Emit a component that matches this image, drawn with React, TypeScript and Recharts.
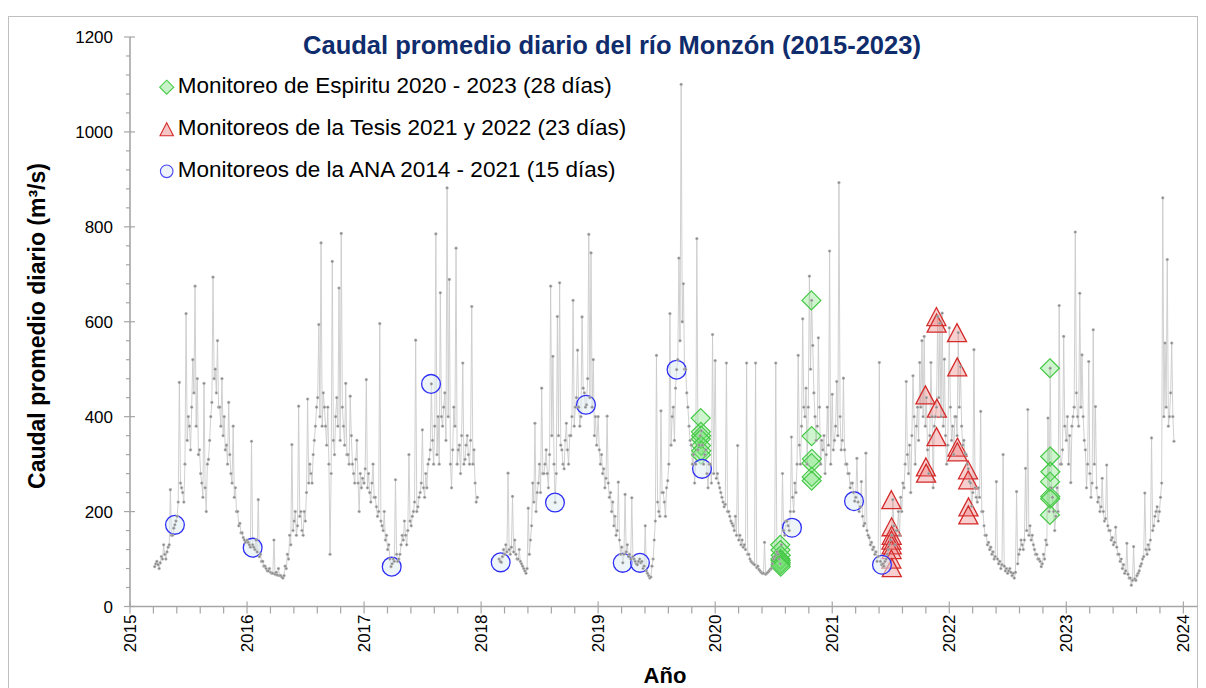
import React from 'react';
import { ComposedChart, Line, Scatter, XAxis, YAxis, Legend } from 'recharts';

// ---------- data: daily flow (m3/s), read twice a week ----------
// "peak" readings at the start of each week, "band" readings at mid-week
const q2015 = [84,95,80,105,130,100,125,246,150,172,190,472,250,220,617,400,330,520,675,480,330,260,470,200,310,400,694,500,560,420,480,400,340,430,280,380,250,200,175,155,140];
const b2015 = [90,88,92,100,110,115,130,150,165,180,220,260,240,300,350,380,420,450,380,320,280,230,250,300,350,430,480,450,420,380,360,330,300,320,260,230,200,170,155,145,135];
const q2016 = [140,130,348,125,140,225,110,95,85,75,80,70,140,72,80,65,60,85,110,150,341,180,150,422,200,150,180,437,300,260,350,420,594,766,450,380,420,110,727,320,440,671,786,380,470,320,443,300,260,350,200,250];
const b2016 = [135,125,130,120,115,105,95,85,80,75,72,70,68,66,65,62,65,80,100,130,160,200,170,190,160,200,240,260,280,320,380,440,400,380,420,340,300,280,350,400,380,350,420,340,320,300,360,280,310,260,280,270];
const q2017 = [260,478,280,220,300,230,190,596,170,200,150,130,84,100,267,95,110,150,180,130,320,170,200,561,210,240,372,230,250,310,469,300,785,400,661,380,450,882,689,250,420,755,330,280,513,310,360,300,632,330,220];
const b2017 = [290,250,240,260,230,210,200,180,160,140,120,100,90,95,110,100,130,140,150,160,180,190,220,200,230,260,250,280,300,330,350,380,320,300,400,420,350,400,300,330,380,300,340,360,300,340,320,350,300,260,230];
const q2018 = [100,93,120,130,281,110,232,140,100,120,90,80,70,207,140,260,386,240,300,460,280,330,250,675,527,219,611,682,330,290,386,300,360,645,420,540,380,610,450,425,784,745,520,400];
const b2018 = [95,105,110,115,120,125,115,110,100,95,85,75,80,110,170,220,200,260,240,280,300,280,320,360,300,280,360,340,300,350,330,360,400,380,440,420,400,460,420,480,440,420,360,340];
const q2019 = [400,300,280,250,401,230,200,170,150,262,110,92,236,130,110,229,100,90,95,92,80,170,70,60,85,140,529,200,412,240,190,265,617,400,350,499,734,1100,680,500,420,350,300,260,775,340,370,300,330,250,300,573];
const b2019 = [330,320,290,270,260,240,220,190,160,140,125,110,115,105,100,105,95,88,100,95,85,75,65,62,100,180,220,190,240,220,250,300,340,420,460,520,560,600,500,450,380,340,320,300,330,360,340,320,280,300,260,280];
const q2020 = [518,280,250,230,210,513,200,180,170,190,339,150,140,130,513,110,95,90,513,85,75,70,135,70,75,80,100,513,110,90,280,150,180,160,357,200,240,529,300,606,400,300,696,645,450,350,566,300,330,280,420,749];
const b2020 = [270,260,240,220,215,200,190,175,160,150,140,130,125,120,110,100,92,88,82,78,72,70,68,72,78,90,105,115,100,130,160,180,170,200,230,260,300,340,380,420,460,420,500,550,400,380,420,350,360,320,340,300];
const q2021 = [447,350,474,893,330,481,300,280,250,260,222,312,200,263,170,323,150,130,120,110,95,514,88,85,100,120,140,225,130,160,150,200,250,474,280,240,486,300,420,514,560,569,440,280,514,250,400,611,597,618,521,300];
const b2021 = [330,380,360,400,350,330,300,280,260,240,230,220,210,190,175,160,145,135,125,115,105,95,90,95,110,130,150,170,160,200,230,260,300,320,340,360,400,380,350,420,400,380,330,360,400,380,420,440,400,380,360,340];
const q2022 = [587,350,320,400,577,505,340,323,300,263,211,541,230,250,411,200,150,130,120,110,100,263,90,80,320,75,70,80,65,60,242,110,140,120,291,415,170,150,120,110,100,84,110,140,397,502,230,160,250,634,300,569];
const b2022 = [420,380,400,360,420,380,350,320,290,260,240,250,220,230,200,170,150,135,125,115,105,100,95,88,85,80,75,72,70,72,90,120,130,140,160,150,140,130,110,100,95,90,100,130,200,250,200,190,200,300,330,380];
const q2023 = [350,300,261,400,789,400,660,530,350,250,516,230,583,421,220,200,270,180,298,160,140,130,167,110,95,80,70,133,60,45,126,55,70,85,100,239,110,120,355,170,200,180,230,861,555,731,400,555,348];
const b2023 = [400,360,380,420,450,380,420,400,330,300,280,260,300,250,230,210,200,185,170,160,145,135,125,110,100,88,75,68,60,55,58,65,75,90,105,120,130,140,160,190,210,200,260,400,420,380,450,400];

const espirituDates = [2019.876,2019.878,2019.880,2019.877,2019.879,2019.881,2019.878,
  2020.556,2020.558,2020.560,2020.557,2020.559,2020.561,2020.558,2020.560,
  2020.822,2020.824,2020.826,2020.823,2020.825,2020.824,
  2022.860,2022.862,2022.864,2022.861,2022.863,2022.862,2022.860];
const espirituQ = [397,368,360,353,339,328,320, 130,119,108,100,97,92,88,84, 645,359,311,302,273,265, 502,316,284,263,232,227,193];

const tesisDates = [2021.505,2021.507,2021.508,2021.506,2021.508,2021.507,2021.505,2021.509,
  2021.796,2021.800,2021.802,
  2021.890,2021.892,2021.894,2021.891,
  2022.066,2022.068,2022.070,2022.069,
  2022.160,2022.162,2022.164,2022.163];
const tesisQ = [225,168,150,140,130,120,100,82, 446,294,281, 611,597,418,358, 577,505,336,326, 288,267,210,193];

const anaDates = [2015.384,2016.048,2017.236,2017.572,2018.167,2018.631,2018.896,2019.210,2019.357,2019.670,2019.887,2020.656,2021.186,2021.425];
const anaQ = [172,124,84,469,93,219,425,92,92,499,290,166,222,88];

const years = [2015,2016,2017,2018,2019,2020,2021,2022,2023,2024];
const yLabels = [0,200,400,600,800,1000,1200];

const legendNames = [
  'Monitoreo de Espiritu 2020 - 2023 (28 días)',
  'Monitoreos de la Tesis 2021 y 2022 (23 días)',
  'Monitoreos de la ANA 2014 - 2021 (15 días)',
];

// ---------- derived ----------
const WEEK = 7 / 365.25;
const twiceWeekly = (year: number, firstWeek: number, a: number[], b: number[]) =>
  a.flatMap((v, i) => {
    const out = [{ x: year + (firstWeek + i) * WEEK, y: v }];
    if (b[i] !== undefined) out.push({ x: year + (firstWeek + i + 0.5) * WEEK, y: b[i] });
    return out;
  });

const segA = [...twiceWeekly(2015, 11, q2015, b2015), ...twiceWeekly(2016, 0, q2016, b2016), ...twiceWeekly(2017, 0, q2017, b2017)];
const segB = [...twiceWeekly(2018, 8, q2018, b2018), ...twiceWeekly(2019, 0, q2019, b2019), ...twiceWeekly(2020, 0, q2020, b2020),
  ...twiceWeekly(2021, 0, q2021, b2021), ...twiceWeekly(2022, 0, q2022, b2022), ...twiceWeekly(2023, 0, q2023, b2023)];

const pts = (d: number[], q: number[]) => d.map((x, i) => ({ x, y: q[i] }));
const espirituPts = pts(espirituDates, espirituQ);
const tesisPts = pts(tesisDates, tesisQ);
const anaPts = pts(anaDates, anaQ);

const xTicks = years.flatMap((y) => (y === 2024 ? [y] : [y, y + 0.2, y + 0.4, y + 0.6, y + 0.8]));
const yTicks = yLabels.flatMap((v) => (v === 1200 ? [v] : [v, v + 40, v + 80, v + 120, v + 160]));

// ---------- styling ----------
const FONT = '"Liberation Sans", Arial, sans-serif';
const AXIS = '#a6a6a6';
const W = 1198;
const H = 690;
const YAXIS_W = 60;
const XAXIS_H = 70;
const MARGIN = { top: 29, right: 8.6, bottom: H - XAXIS_H - 598.5, left: 122 - YAXIS_W };

const XTick = (props: any) => {
  const { x, y, payload } = props;
  const v = payload.value as number;
  const major = Math.abs(v - Math.round(v)) < 1e-6;
  return (
    <g>
      <line x1={x} x2={x} y1={major ? y - 5 : y} y2={y + 7} stroke={AXIS} strokeWidth={1.2} />
      {major && (
        <text x={x} y={y + 8} transform={`rotate(-90 ${x} ${y + 8})`} textAnchor="end" dy="0.36em"
          fontSize={17} fontFamily={FONT} fill="#000">{Math.round(v)}</text>
      )}
    </g>
  );
};

const YTick = (props: any) => {
  const { x, y, payload } = props;
  const v = payload.value as number;
  const major = v % 200 === 0;
  return (
    <g>
      <line x1={major ? x - 6 : x - 4} x2={major ? x + 5 : x} y1={y} y2={y} stroke={AXIS} strokeWidth={1.2} />
      {major && (
        <text x={x - 17} y={y} textAnchor="end" dy="0.36em" fontSize={17} fontFamily={FONT} fill="#000">{v}</text>
      )}
    </g>
  );
};

const Diamond = (p: any) => {
  const { cx, cy } = p;
  const s = 9.5;
  return <path d={`M${cx},${cy - s}L${cx + s},${cy}L${cx},${cy + s}L${cx - s},${cy}Z`}
    fill="rgba(110,225,110,0.33)" stroke="#45c845" strokeWidth={1.2} />;
};
const Triangle = (p: any) => {
  const { cx, cy } = p;
  const w = 9.5, h = 9;
  return <path d={`M${cx},${cy - h}L${cx + w},${cy + h}L${cx - w},${cy + h}Z`}
    fill="rgba(235,110,110,0.33)" stroke="#d42a2a" strokeWidth={1.3} />;
};
const Circle = (p: any) => {
  const { cx, cy } = p;
  return <circle cx={cx} cy={cy} r={9.4} fill="rgba(222,236,244,0.55)" stroke="#2f2ff5" strokeWidth={1.3} />;
};

const LegendBox = () => {
  const rows = [22.2, 64.3, 106.3];
  return (
    <svg width={520} height={130} style={{ display: 'block' }}>
      <path d={`M16.7,${rows[0] - 7}L23.7,${rows[0]}L16.7,${rows[0] + 7}L9.7,${rows[0]}Z`} fill="#c8f3c8" stroke="#4ccc4c" strokeWidth={1.1} />
      <path d={`M16.7,${rows[1] - 6.5}L23.4,${rows[1] + 6.5}L10,${rows[1] + 6.5}Z`} fill="#f6c6c6" stroke="#d42a2a" strokeWidth={1.1} />
      <circle cx={16.7} cy={rows[2]} r={6.3} fill="#eef3fb" stroke="#4a4af5" strokeWidth={1.1} />
      {legendNames.map((t, i) => (
        <text key={t} x={27.7} y={rows[i] + 6.1} fontSize={22.5} fontFamily={FONT} fill="#000">{t}</text>
      ))}
    </svg>
  );
};

const dotStyle = { r: 1.4, fill: '#8a8a8a', stroke: '#c8c8c8', strokeWidth: 0.5 };

export default function App() {
  return (
    <div style={{ position: 'relative', width: W, height: H }}>
      <style>{'html,body{overflow:hidden}'}</style>
      <div style={{ position: 'absolute', left: 0, top: 8, width: 1190, height: 700, border: '1px solid #bfbfbf', boxSizing: 'border-box' }} />
      <div style={{ position: 'absolute', left: 0, top: 0 }}>
        <ComposedChart width={W} height={H} margin={MARGIN}>
          <XAxis type="number" dataKey="x" domain={[2015, 2024.12]} ticks={xTicks} interval={0}
            height={XAXIS_H} tick={<XTick />} tickLine={false} tickSize={0} tickMargin={0}
            axisLine={{ stroke: AXIS, strokeWidth: 1.6 }} allowDataOverflow />
          <YAxis type="number" dataKey="y" domain={[0, 1200]} ticks={yTicks} interval={0}
            width={YAXIS_W} tick={<YTick />} tickLine={false} tickSize={0} tickMargin={0}
            axisLine={{ stroke: AXIS, strokeWidth: 1.6 }} allowDataOverflow />
          <Legend layout="vertical" align="center" verticalAlign="middle" content={() => <LegendBox />}
            wrapperStyle={{ left: 142, top: 57, width: 520, height: 130 }} />
          <Line data={segA} dataKey="y" stroke="#cbcbcb" strokeWidth={0.9} isAnimationActive={false}
            dot={dotStyle} activeDot={false} legendType="none" />
          <Line data={segB} dataKey="y" stroke="#cbcbcb" strokeWidth={0.9} isAnimationActive={false}
            dot={dotStyle} activeDot={false} legendType="none" />
          <Scatter data={espirituPts} shape={Diamond} isAnimationActive={false} />
          <Scatter data={tesisPts} shape={Triangle} isAnimationActive={false} />
          <Scatter data={anaPts} shape={Circle} isAnimationActive={false} />
        </ComposedChart>
      </div>
      <svg width={W} height={H} style={{ position: 'absolute', left: 0, top: 0, pointerEvents: 'none' }}>
        <text x={604} y={45.5} textAnchor="middle" fontSize={25.5} fontWeight="bold" fontFamily={FONT} fill="#0f2c6c">
          Caudal promedio diario del río Monzón (2015-2023)
        </text>
        <text x={37} y={318} transform="rotate(-90 37 318)" textAnchor="middle" fontSize={23} fontWeight="bold" fontFamily={FONT} fill="#000">
          Caudal promedio diario (m³/s)
        </text>
        <text x={657} y={675} textAnchor="middle" fontSize={22} fontWeight="bold" fontFamily={FONT} fill="#000">Año</text>
      </svg>
    </div>
  );
}
